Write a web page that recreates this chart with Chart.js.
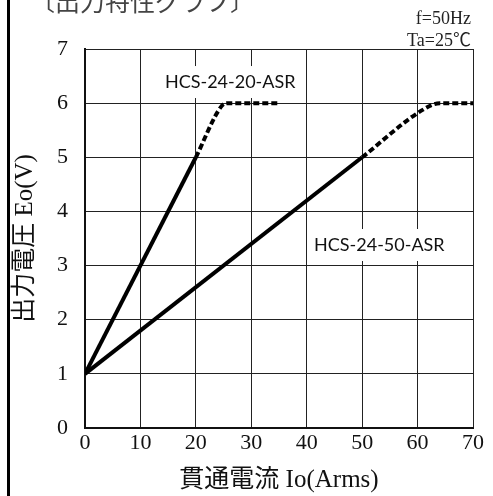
<!DOCTYPE html>
<html lang="ja">
<head>
<meta charset="utf-8">
<title>出力特性グラフ</title>
<script src="https://cdn.jsdelivr.net/npm/chart.js@4.4.1/dist/chart.umd.min.js"></script>
<style>
    html, body { margin: 0; padding: 0; background: #fff; }
    #wrap { position: relative; width: 493px; height: 496px; overflow: hidden; }
    #frameLine { position: absolute; left: 7px; top: 0; width: 3px; height: 496px; background: #000; }
    .note { position: absolute; white-space: nowrap; line-height: 1; color: #222; font-family: "Liberation Serif", "Noto Sans CJK JP", serif; }
    #title { left: 30px; top: -12px; font-size: 25px; color: #444; font-family: "Noto Sans CJK JP", sans-serif; }
    #cond1 { right: 22px; top: 9px; font-size: 18px; }
    #cond2 { right: 22px; top: 31px; font-size: 18px; }
    canvas { position: absolute; left: 0; top: 0; }
</style>
</head>
<body>
<div id="wrap">
    <canvas id="chart" width="493" height="496"></canvas>
    <div id="frameLine"></div>
    <div class="note" id="title">〔出力特性グラフ〕</div>
    <div class="note" id="cond1">f=50Hz</div>
    <div class="note" id="cond2">Ta=25℃</div>
</div>
<script>
// ---- data ----
const currentTicks = [0, 10, 20, 30, 40, 50, 60, 70];
const voltageTicks = [0, 1, 2, 3, 4, 5, 6, 7];

const hcs20Current = [0, 20];
const hcs20Voltage = [1, 5];
const hcs20SatCurrent = [20, 24.6, 25.6, 35];
const hcs20SatVoltage = [5, 5.94, 6, 6];

const hcs50Current = [0, 50];
const hcs50Voltage = [1, 5];
const hcs50SatCurrent = [50, 61, 64, 70];
const hcs50SatVoltage = [5, 5.88, 6, 6];

const seriesNames = ['HCS-24-20-ASR', 'HCS-24-50-ASR'];

const toPoints = (xs, ys) => xs.map((v, i) => ({ x: v, y: ys[i] }));

const serifFont = '"Liberation Serif", "Noto Sans CJK JP", serif';

// model name labels sit on a white box that hides the grid behind them
const seriesLabels = {
    id: 'seriesLabels',
    beforeDatasetsDraw(chart, args, opts) {
        const { ctx, scales: { x, y } } = chart;
        ctx.save();
        ctx.font = '18px Lato, "Open Sans", sans-serif';
        ctx.textAlign = 'center';
        ctx.textBaseline = 'middle';
        opts.items.forEach(item => {
            const px = x.getPixelForValue(item.x);
            const py = y.getPixelForValue(item.y);
            const w = ctx.measureText(item.text).width;
            ctx.fillStyle = '#fff';
            ctx.fillRect(px - w / 2 - 6, py - 16, w + 12, 32);
            ctx.fillStyle = '#111';
            ctx.fillText(item.text, px, py);
        });
        ctx.restore();
    }
};

const solid = { borderColor: '#000', borderWidth: 4, pointRadius: 0, fill: false };
const dotted = { borderColor: '#000', borderWidth: 4, pointRadius: 0, fill: false,
    borderDash: [6, 3], cubicInterpolationMode: 'monotone' };

new Chart(document.getElementById('chart'), {
    type: 'line',
    data: {
        datasets: [
            { label: seriesNames[0], data: toPoints(hcs20Current, hcs20Voltage), ...solid },
            { label: seriesNames[0] + ' sat', data: toPoints(hcs20SatCurrent, hcs20SatVoltage), ...dotted },
            { label: seriesNames[1], data: toPoints(hcs50Current, hcs50Voltage), ...solid },
            { label: seriesNames[1] + ' sat', data: toPoints(hcs50SatCurrent, hcs50SatVoltage), ...dotted }
        ]
    },
    options: {
        responsive: false,
        animation: false,
        layout: { padding: { top: 49, right: 20, left: 0, bottom: 0 } },
        plugins: {
            legend: { display: false },
            tooltip: { enabled: false },
            seriesLabels: {
                items: [
                    { text: seriesNames[0], x: 26.2, y: 6.39 },
                    { text: seriesNames[1], x: 53.1, y: 3.38 }
                ]
            }
        },
        scales: {
            x: {
                type: 'linear',
                min: 0,
                max: 70,
                afterBuildTicks: s => { s.ticks = currentTicks.map(v => ({ value: v })); },
                afterFit: s => { s.height = 68; },
                grid: { color: '#222', lineWidth: 1, drawTicks: false },
                border: { color: '#111', width: 2 },
                ticks: { color: '#111', padding: 2, font: { family: serifFont, size: 22 } },
                title: {
                    display: true,
                    text: '貫通電流 Io(Arms)',
                    color: '#111',
                    padding: { top: 0, bottom: 1 },
                    font: { family: serifFont, size: 25, lineHeight: 1.2 }
                }
            },
            y: {
                min: 0,
                max: 7,
                afterBuildTicks: s => { s.ticks = voltageTicks.map(v => ({ value: v })); },
                afterFit: s => { s.width = 85; },
                grid: { color: '#222', lineWidth: 1, drawTicks: false },
                border: { color: '#111', width: 2 },
                ticks: { color: '#111', padding: 17, font: { family: serifFont, size: 22 } },
                title: {
                    display: true,
                    text: '出力電圧 Eo(V)',
                    color: '#111',
                    padding: { top: 10, bottom: 0 },
                    font: { family: serifFont, size: 25, lineHeight: 1.2 }
                }
            }
        }
    },
    plugins: [seriesLabels]
});
</script>
</body>
</html>
